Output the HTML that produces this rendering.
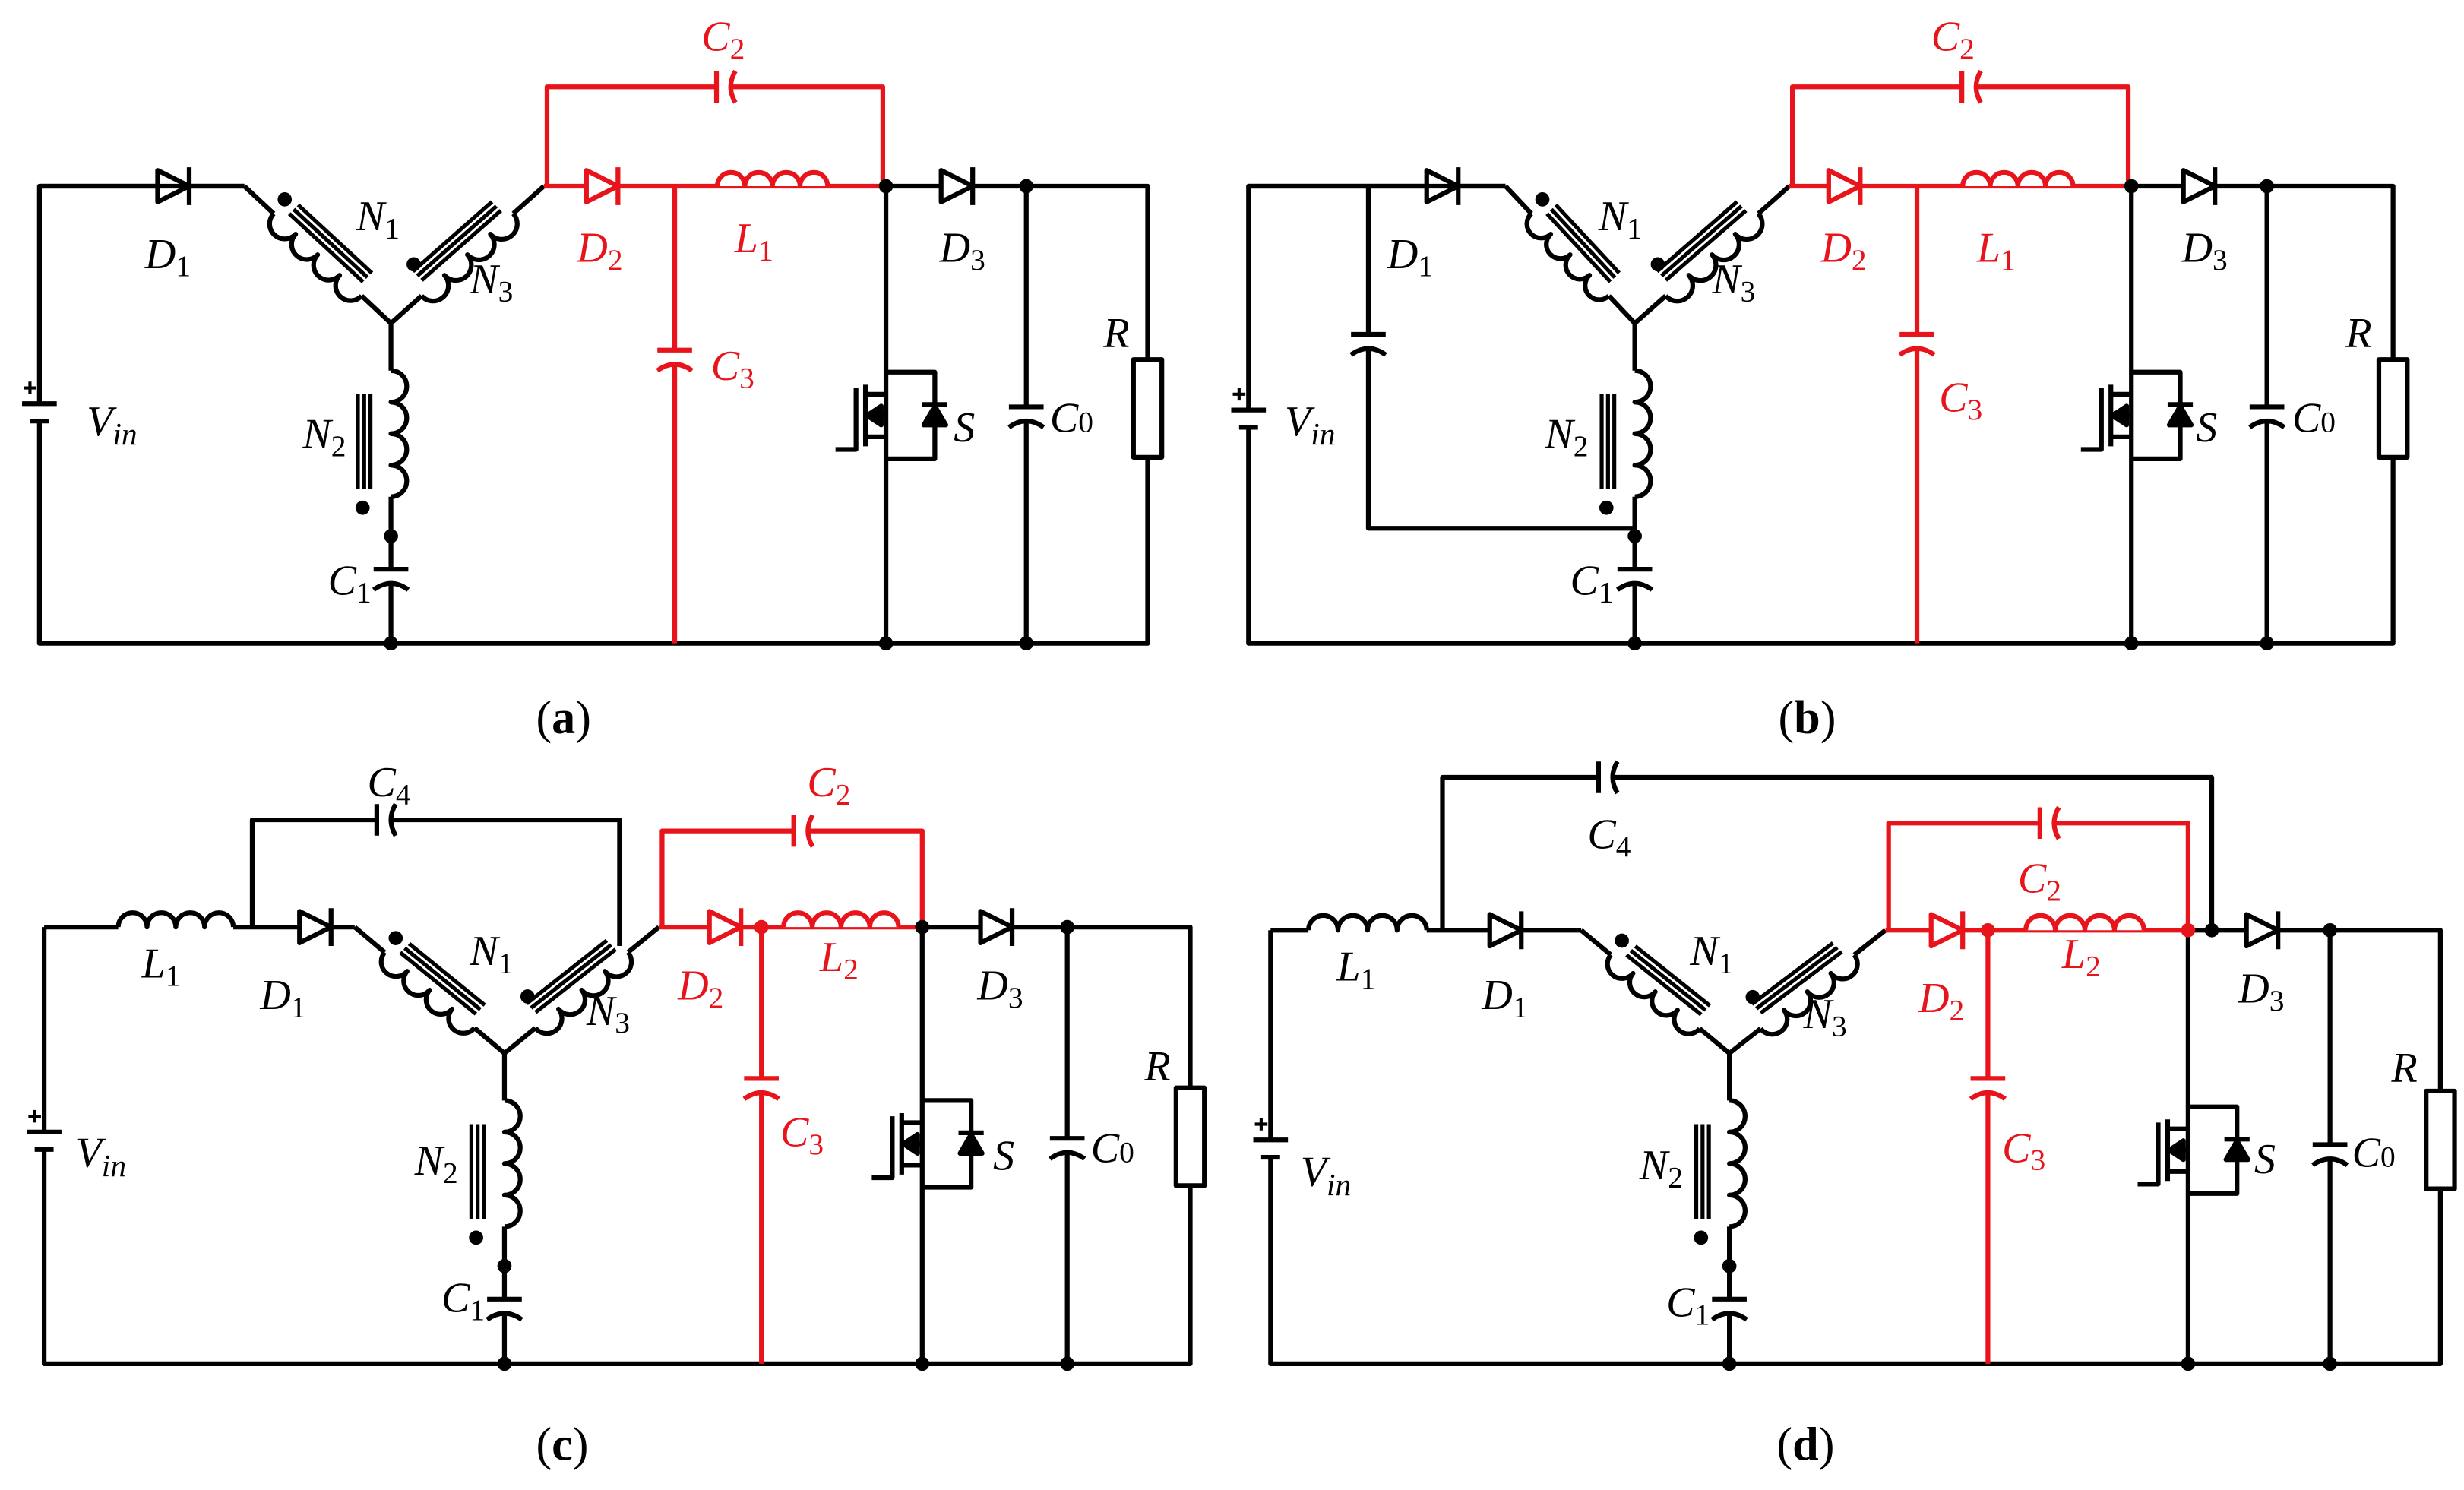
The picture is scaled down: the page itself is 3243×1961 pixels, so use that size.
<!DOCTYPE html>
<html><head><meta charset="utf-8">
<style>
html,body{margin:0;padding:0;background:#fff;width:3243px;height:1961px;overflow:hidden}
svg{display:block}
text{font-family:"Liberation Serif",serif;font-style:italic;font-size:27px}
.s{font-style:normal;font-size:19px}
.si{font-style:italic;font-size:20px}
.r{fill:#e8141b}
.cap{font-style:normal;font-size:30px}
.b{font-weight:bold}
</style></head><body>
<svg id="svg" width="3243" height="1961" viewBox="0 0 1563 945" xmlns="http://www.w3.org/2000/svg">
<g id="g" stroke="#000" stroke-width="3" fill="none" stroke-linejoin="round"></g>
<g id="labels">
<!-- (a) -->
<text x="92" y="170">D<tspan class="s" dy="5">1</tspan></text>
<text x="226" y="146">N<tspan class="s" dy="5">1</tspan></text>
<text x="298" y="186">N<tspan class="s" dy="5">3</tspan></text>
<text class="r" x="366" y="166">D<tspan class="s" dy="5">2</tspan></text>
<text class="r" x="466" y="160">L<tspan class="s" dy="5">1</tspan></text>
<text x="596" y="166">D<tspan class="s" dy="5">3</tspan></text>
<text class="r" x="445" y="32">C<tspan class="s" dy="5">2</tspan></text>
<text class="r" x="451" y="241">C<tspan class="s" dy="5">3</tspan></text>
<text x="605" y="280">S</text>
<text x="666" y="274">C<tspan class="s" dy="0">0</tspan></text>
<text x="700" y="220">R</text>
<text x="55" y="276">V<tspan class="si" dy="6">in</tspan></text>
<text x="192" y="284">N<tspan class="s" dy="5">2</tspan></text>
<text x="208" y="377">C<tspan class="s" dy="5">1</tspan></text>
<text class="cap" x="340" y="465">(<tspan class="b">a</tspan>)</text>
<!-- (b) -->
<text x="880" y="170">D<tspan class="s" dy="5">1</tspan></text>
<text x="1014" y="146">N<tspan class="s" dy="5">1</tspan></text>
<text x="1086" y="186">N<tspan class="s" dy="5">3</tspan></text>
<text class="r" x="1155" y="166">D<tspan class="s" dy="5">2</tspan></text>
<text class="r" x="1254" y="166">L<tspan class="s" dy="5">1</tspan></text>
<text x="1384" y="166">D<tspan class="s" dy="5">3</tspan></text>
<text class="r" x="1225" y="32">C<tspan class="s" dy="5">2</tspan></text>
<text class="r" x="1230" y="261">C<tspan class="s" dy="5">3</tspan></text>
<text x="1393" y="280">S</text>
<text x="1454" y="274">C<tspan class="s">0</tspan></text>
<text x="1488" y="220">R</text>
<text x="815" y="276">V<tspan class="si" dy="6">in</tspan></text>
<text x="980" y="284">N<tspan class="s" dy="5">2</tspan></text>
<text x="996" y="377">C<tspan class="s" dy="5">1</tspan></text>
<text class="cap" x="1128" y="465">(<tspan class="b">b</tspan>)</text>
<!-- (c) -->
<text x="233" y="505">C<tspan class="s" dy="5">4</tspan></text>
<text x="90" y="620">L<tspan class="s" dy="5">1</tspan></text>
<text x="165" y="640">D<tspan class="s" dy="5">1</tspan></text>
<text x="298" y="612">N<tspan class="s" dy="5">1</tspan></text>
<text x="372" y="650">N<tspan class="s" dy="5">3</tspan></text>
<text class="r" x="430" y="634">D<tspan class="s" dy="5">2</tspan></text>
<text class="r" x="520" y="616">L<tspan class="s" dy="5">2</tspan></text>
<text x="620" y="634">D<tspan class="s" dy="5">3</tspan></text>
<text class="r" x="512" y="505">C<tspan class="s" dy="5">2</tspan></text>
<text class="r" x="495" y="727">C<tspan class="s" dy="5">3</tspan></text>
<text x="630" y="742">S</text>
<text x="692" y="737">C<tspan class="s">0</tspan></text>
<text x="726" y="685">R</text>
<text x="48" y="740">V<tspan class="si" dy="6">in</tspan></text>
<text x="263" y="745">N<tspan class="s" dy="5">2</tspan></text>
<text x="280" y="832">C<tspan class="s" dy="5">1</tspan></text>
<text class="cap" x="340" y="926">(<tspan class="b">c</tspan>)</text>
<!-- (d) -->
<text x="1007" y="538">C<tspan class="s" dy="5">4</tspan></text>
<text x="848" y="622">L<tspan class="s" dy="5">1</tspan></text>
<text x="940" y="640">D<tspan class="s" dy="5">1</tspan></text>
<text x="1072" y="612">N<tspan class="s" dy="5">1</tspan></text>
<text x="1144" y="652">N<tspan class="s" dy="5">3</tspan></text>
<text class="r" x="1217" y="642">D<tspan class="s" dy="5">2</tspan></text>
<text class="r" x="1308" y="614">L<tspan class="s" dy="5">2</tspan></text>
<text x="1420" y="636">D<tspan class="s" dy="5">3</tspan></text>
<text class="r" x="1280" y="566">C<tspan class="s" dy="5">2</tspan></text>
<text class="r" x="1270" y="737">C<tspan class="s" dy="5">3</tspan></text>
<text x="1430" y="744">S</text>
<text x="1492" y="740">C<tspan class="s">0</tspan></text>
<text x="1517" y="686">R</text>
<text x="825" y="752">V<tspan class="si" dy="6">in</tspan></text>
<text x="1040" y="748">N<tspan class="s" dy="5">2</tspan></text>
<text x="1057" y="835">C<tspan class="s" dy="5">1</tspan></text>
<text class="cap" x="1127" y="926">(<tspan class="b">d</tspan>)</text>
</g>
</svg>
<script>
var out='';var R='#e8141b';
function W(p,c){out+='<polyline points="'+p+'" stroke="'+(c||'#000')+'"/>';}
function dot(x,y,c){out+='<circle cx="'+x+'" cy="'+y+'" r="4.5" fill="'+(c||'#000')+'" stroke="none"/>';}
function diode(x,y,c){c=c||'#000';out+='<polygon points="'+(x-10)+','+(y-10)+' '+(x-10)+','+(y+10)+' '+(x+10)+','+y+'" fill="#fff" stroke="'+c+'"/><line x1="'+(x+10)+'" y1="'+(y-12)+'" x2="'+(x+10)+'" y2="'+(y+12)+'" stroke="'+c+'"/>';}
function capH(x,y,c){c=c||'#000';out+='<rect x="'+(x-4)+'" y="'+(y-3)+'" width="9" height="6" fill="#fff" stroke="none"/><line x1="'+(x-4)+'" y1="'+(y-10)+'" x2="'+(x-4)+'" y2="'+(y+10)+'" stroke="'+c+'"/><path d="M'+(x+8)+' '+(y-10)+'Q'+(x+2)+' '+y+' '+(x+8)+' '+(y+10)+'" stroke="'+c+'"/>';}
function capV(x,y,c){c=c||'#000';out+='<rect x="'+(x-3)+'" y="'+(y-3)+'" width="6" height="9" fill="#fff" stroke="none"/><line x1="'+(x-11)+'" y1="'+(y-4)+'" x2="'+(x+11)+'" y2="'+(y-4)+'" stroke="'+c+'"/><path d="M'+(x-11)+' '+(y+9)+'Q'+x+' '+(y+1)+' '+(x+11)+' '+(y+9)+'" stroke="'+c+'"/>';}
function coil(x1,y1,x2,y2,n,sw,c){var d='M'+x1+' '+y1;var dx=(x2-x1)/n,dy=(y2-y1)/n;var r=Math.sqrt(dx*dx+dy*dy)/2;for(var i=1;i<=n;i++){d+='A'+r+' '+r+' 0 0 '+sw+' '+(x1+dx*i)+' '+(y1+dy*i);}out+='<path d="'+d+'" fill="#fff" stroke="'+(c||'#000')+'"/>';}
function bat(x,y){out+='<rect x="'+(x-3)+'" y="'+(y-2)+'" width="6" height="11" fill="#fff" stroke="none"/><line x1="'+(x-11)+'" y1="'+(y-2)+'" x2="'+(x+11)+'" y2="'+(y-2)+'"/><line x1="'+(x-6)+'" y1="'+(y+9)+'" x2="'+(x+6)+'" y2="'+(y+9)+'"/><path d="M'+(x-10)+' '+(y-12)+'h8M'+(x-6)+' '+(y-16)+'v8" stroke-width="2"/>';}
function res(x,y1,y2){out+='<rect x="'+(x-9)+'" y="'+y1+'" width="18" height="'+(y2-y1)+'" fill="#fff"/>';}
function mos(x,yt,yb){var ym=(yt+yb)/2;out+='<path d="M'+x+' '+yt+'H'+(x+31)+'V'+yb+'H'+x+'"/>';
out+='<polygon points="'+(x+24)+','+(ym+6)+' '+(x+38)+','+(ym+6)+' '+(x+31)+','+(ym-6)+'" fill="#000"/><line x1="'+(x+23)+'" y1="'+(ym-7)+'" x2="'+(x+39)+'" y2="'+(ym-7)+'"/>';
out+='<path d="M'+(x-13)+' '+(yt+8)+'v14M'+(x-13)+' '+(ym-6)+'v12M'+(x-13)+' '+(yb-22)+'v14M'+(x-13)+' '+(yt+14)+'H'+x+'M'+(x-13)+' '+(yb-14)+'H'+x+'M'+(x-13)+' '+ym+'H'+x+'M'+(x-19)+' '+(yt+10)+'V'+(yb-6)+'H'+(x-32)+'"/>';
out+='<polygon points="'+(x-12)+','+ym+' '+(x-3)+','+(ym-6)+' '+(x-3)+','+(ym+6)+'" fill="#000"/>';}
function core(x1,y1,x2,y2,off,nx,ny){for(var k=0;k<3;k++){var o=off+k*4;out+='<line x1="'+(x1+nx*o)+'" y1="'+(y1+ny*o)+'" x2="'+(x2+nx*o)+'" y2="'+(y2+ny*o)+'" stroke-width="2.5"/>';}}
function xf(lx,ly,jx,jy,rx,ry,n2b){
 var ax=lx+(jx-lx)*0.2,ay=ly+(jy-ly)*0.2,bx=lx+(jx-lx)*0.8,by=ly+(jy-ly)*0.8;
 W(lx+','+ly+' '+ax+','+ay);W(bx+','+by+' '+jx+','+jy);coil(ax,ay,bx,by,4,0);
 core(ax+5,ay+5,bx-4,by-4,7,0.7,-0.7);dot(ax+7,ay-9);
 var cx=jx+(rx-jx)*0.2,cy=jy+(ry-jy)*0.2,ex=jx+(rx-jx)*0.8,ey=jy+(ry-jy)*0.8;
 W(jx+','+jy+' '+cx+','+cy);W(ex+','+ey+' '+rx+','+ry);coil(cx,cy,ex,ey,4,0);
 core(cx+5,cy-5,ex-3,ey+3,7,-0.7,-0.7);dot(cx-5,cy-20);
 W(jx+','+jy+' '+jx+','+(jy+30));coil(jx,jy+30,jx,jy+110,4,1);W(jx+','+(jy+110)+' '+jx+','+n2b);
 core(jx-13,jy+45,jx-13,jy+105,0,-1,0);dot(jx-18,jy+117);
}
function panel(o){
 var T=o.t,B=o.b;
 W(o.vin+','+(o.batY)+' '+o.vin+','+T+' '+o.topStart+','+T);
 W(o.vin+','+o.batY+' '+o.vin+','+B+' '+o.R+','+B+' '+o.R+','+T+' '+o.blackStart+','+T);
 bat(o.vin,o.batY);
 xf(o.xl,T,o.jx,o.jy,o.xr,T,B);
 dot(o.jx,o.jy+135);capV(o.jx,o.jy+160);dot(o.jx,B);
 W(o.xr+','+T+' '+o.redEnd+','+T,R);
 W(o.xr+2+','+T+' '+(o.xr+2)+','+o.c2y+' '+o.redEnd+','+o.c2y+' '+o.redEnd+','+T,R);
 capH((o.xr+o.redEnd)/2+6,o.c2y,R);
 diode(o.d2,T,R);
 W(o.c3+','+T+' '+o.c3+','+B,R);capV(o.c3,o.c3y,R);
 if(o.c3dot)dot(o.c3,T,R);
 coil(o.l2a,T,o.l2b,T,4,1,R);
 W(o.m+','+T+' '+o.m+','+B);mos(o.m,o.my,o.my+55);dot(o.m,B);dot(o.m,T,o.redDot?R:'#000');
 diode(o.d3,T);
 W(o.c0+','+T+' '+o.c0+','+B);capV(o.c0,o.c0y);dot(o.c0,T);dot(o.c0,B);
 res(o.R,o.ry,o.ry+62);
}
W('25,118 155,118');diode(110,118);
panel({t:118,b:408,vin:25,batY:258,topStart:155,blackStart:560,R:728,xl:155,jx:248,jy:205,xr:345,redEnd:560,c2y:55,d2:382,c3:428,c3y:226,l2a:455,l2b:525,m:562,my:236,d3:607,c0:651,c0y:262,ry:228});
W('792,118 955,118');diode(915,118);
panel({t:118,b:408,vin:792,batY:262,topStart:955,blackStart:1350,R:1518,xl:955,jx:1037,jy:205,xr:1135,redEnd:1350,c2y:55,d2:1170,c3:1216,c3y:216,l2a:1245,l2b:1315,m:1352,my:236,d3:1395,c0:1438,c0y:262,ry:228});
W('868,118 868,335 1037,335');capV(868,216);
W('28,588 75,588');coil(75,588,148,588,4,1);W('148,588 225,588');diode(200,588);
W('160,588 160,520 393,520 393,600');capH(243,520);
panel({t:588,b:865,vin:28,batY:720,topStart:28,blackStart:585,R:755,xl:225,jx:320,jy:668,xr:418,redEnd:585,c2y:527,d2:460,c3:483,c3y:688,c3dot:1,l2a:497,l2b:570,m:585,my:698,d3:632,c0:677,c0y:726,ry:690});
W('806,590 830,590');coil(830,590,905,590,4,1);W('905,590 1003,590');diode(955,590);
W('915,590 915,493 1403,493 1403,590');capH(1018,493);
panel({t:590,b:865,vin:806,batY:725,topStart:806,blackStart:1388,R:1548,xl:1003,jx:1097,jy:668,xr:1196,redEnd:1388,c2y:522,d2:1235,c3:1261,c3y:688,c3dot:1,l2a:1285,l2b:1360,m:1388,my:702,redDot:1,d3:1435,c0:1478,c0y:730,ry:692});
dot(1403,590);
document.getElementById('g').innerHTML=out;
</script>
</body></html>
